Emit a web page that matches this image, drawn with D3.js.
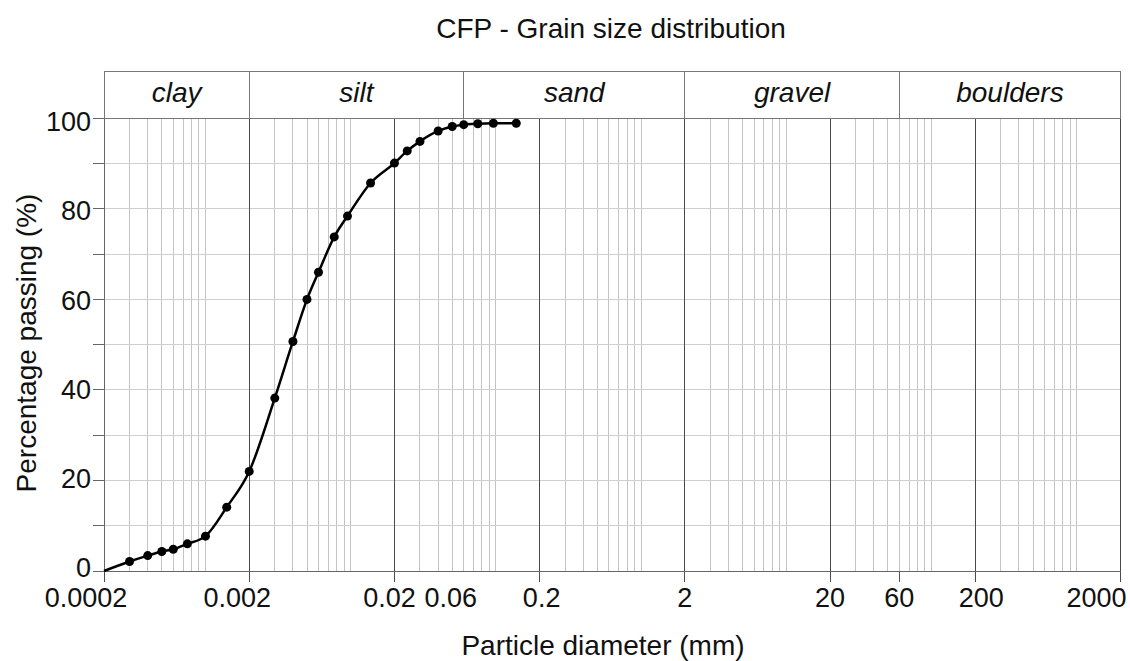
<!DOCTYPE html>
<html>
<head>
<meta charset="utf-8">
<script src="https://cdn.jsdelivr.net/npm/d3@7"></script>
<style>
  body { margin: 0; background: #fff; }
  text { font-family: 'Liberation Sans', Arial, sans-serif; fill: #111; }
</style>
</head>
<body>
<div id="chart"></div>
<script>
const chartWidth = 1130
const chartHeight = 661

// grain size data (mm, % passing)
const diameters = [0.0002, 0.0003, 0.0004, 0.0005, 0.0006, 0.00075, 0.001, 0.0014, 0.002, 0.003, 0.004, 0.005, 0.006, 0.0077, 0.0095, 0.0137, 0.02, 0.0245, 0.03, 0.04, 0.05, 0.06, 0.075, 0.096, 0.138]
const passing = [0, 2.1, 3.4, 4.3, 4.8, 6.0, 7.7, 14.1, 22.0, 38.2, 50.7, 60.0, 66.0, 73.8, 78.4, 85.7, 90.1, 92.8, 94.9, 97.2, 98.2, 98.6, 98.8, 98.9, 98.9]

// soil classes in the header band
const classNames = ['clay', 'silt', 'sand', 'gravel', 'boulders']
const classBounds = [0.0002, 0.002, 0.06, 2, 60, 2000]

// axis ticks
const xTickValues = [0.0002, 0.002, 0.02, 0.06, 0.2, 2, 20, 60, 200, 2000]
const xTickLabels = ['0.0002', '0.002', '0.02', '0.06', '0.2', '2', '20', '60', '200', '2000']
const xMajorLines = [0.0002, 0.002, 0.02, 0.2, 2, 20, 200, 2000]
const yTickValues = [0, 20, 40, 60, 80, 100]

const x = d3.scaleLog().domain([0.0002, 2000]).range([104, 1120.5])
const y = d3.scaleLinear().domain([0, 100]).range([571, 118.3])
const headerTop = 71

const svg = d3
  .select('#chart')
  .append('svg')
  .attr('width', chartWidth)
  .attr('height', chartHeight)

// minor vertical lines: k * 10^n inside domain, not on a major line
const minorLines = []
for (let n = -4; n <= 3; n++) {
  for (let k = 1; k <= 9; k++) {
    const v = +(k * Math.pow(10, n)).toPrecision(3)
    if (v <= 0.0002 || v >= 2000) continue
    if (xMajorLines.some(m => Math.abs(m - v) / m < 1e-6)) continue
    minorLines.push(v)
  }
}

const grid = svg.append('g').attr('shape-rendering', 'crispEdges')

grid
  .selectAll('.minor')
  .data(minorLines)
  .enter()
  .append('line')
  .attr('x1', d => x(d))
  .attr('x2', d => x(d))
  .attr('y1', y(100))
  .attr('y2', y(0))
  .attr('stroke', '#c4c4c4')

// horizontal grid every 10 %
grid
  .selectAll('.hgrid')
  .data(d3.range(10, 100, 10))
  .enter()
  .append('line')
  .attr('x1', x.range()[0])
  .attr('x2', x.range()[1])
  .attr('y1', d => y(d))
  .attr('y2', d => y(d))
  .attr('stroke', '#cfcfcf')

// major vertical lines (extend below axis as ticks)
grid
  .selectAll('.major')
  .data(xMajorLines)
  .enter()
  .append('line')
  .attr('x1', d => x(d))
  .attr('x2', d => x(d))
  .attr('y1', y(100))
  .attr('y2', y(0) + 11)
  .attr('stroke', '#4a4a4a')

// extra tick at 60
grid
  .append('line')
  .attr('x1', x(60))
  .attr('x2', x(60))
  .attr('y1', y(0))
  .attr('y2', y(0) + 11)
  .attr('stroke', '#555')

// y axis line + ticks every 10
grid
  .append('line')
  .attr('x1', x.range()[0])
  .attr('x2', x.range()[0])
  .attr('y1', headerTop)
  .attr('y2', y(0))
  .attr('stroke', '#666')

grid
  .selectAll('.ytick')
  .data(d3.range(0, 101, 10))
  .enter()
  .append('line')
  .attr('x1', x.range()[0] - 11)
  .attr('x2', x.range()[0])
  .attr('y1', d => y(d))
  .attr('y2', d => y(d))
  .attr('stroke', '#666')

// bottom axis line and top (100 %) line
grid
  .selectAll('.hframe')
  .data([0, 100])
  .enter()
  .append('line')
  .attr('x1', x.range()[0])
  .attr('x2', x.range()[1])
  .attr('y1', d => y(d))
  .attr('y2', d => y(d))
  .attr('stroke', '#666')

// header band
grid
  .append('rect')
  .attr('x', x.range()[0])
  .attr('y', headerTop)
  .attr('width', x.range()[1] - x.range()[0])
  .attr('height', y(100) - headerTop)
  .attr('fill', 'none')
  .attr('stroke', '#777')

grid
  .selectAll('.divider')
  .data(classBounds.slice(1, -1))
  .enter()
  .append('line')
  .attr('x1', d => x(d))
  .attr('x2', d => x(d))
  .attr('y1', headerTop)
  .attr('y2', y(100))
  .attr('stroke', '#777')

svg
  .selectAll('.classLabel')
  .data(classNames)
  .enter()
  .append('text')
  .attr('x', (d, i) => (x(classBounds[i]) + x(classBounds[i + 1])) / 2)
  .attr('y', 102)
  .attr('text-anchor', 'middle')
  .style('font-size', '28px')
  .style('font-style', 'italic')
  .text(d => d)

// x tick labels, nudged a little like the original
const labelNudge = { 0.0002: -18, 0.002: -12, 0.02: -5, 0.06: -13, 0.2: 2, 200: 6, 2000: -24 }
svg
  .selectAll('.xlabel')
  .data(xTickValues)
  .enter()
  .append('text')
  .attr('x', d => x(d) + (labelNudge[d] || 0))
  .attr('y', 607)
  .attr('text-anchor', 'middle')
  .style('font-size', '27px')
  .text((d, i) => xTickLabels[i])

// y tick labels (spread slightly wider than the ticks, as in the original)
svg
  .selectAll('.ylabel')
  .data(yTickValues)
  .enter()
  .append('text')
  .attr('x', 91)
  .attr('y', d => y(d) + 9.5 + (d - 50) * 0.065)
  .attr('text-anchor', 'end')
  .style('font-size', '27px')
  .text(d => d)

// curve
const line = d3
  .line()
  .x((d, i) => x(diameters[i]))
  .y(d => y(d))
  .curve(d3.curveMonotoneX)

svg
  .append('path')
  .datum(passing)
  .attr('d', line)
  .attr('fill', 'none')
  .attr('stroke', '#000')
  .attr('stroke-width', 2.5)

svg
  .selectAll('.dot')
  .data(passing.map((p, i) => ({ d: diameters[i], p })).filter(e => e.p > 0))
  .enter()
  .append('circle')
  .attr('cx', e => x(e.d))
  .attr('cy', e => y(e.p))
  .attr('r', 4.5)
  .attr('fill', '#000')

// titles
svg
  .append('text')
  .attr('x', 611)
  .attr('y', 38)
  .attr('text-anchor', 'middle')
  .style('font-size', '28px')
  .text('CFP - Grain size distribution')

svg
  .append('text')
  .attr('x', 603)
  .attr('y', 655)
  .attr('text-anchor', 'middle')
  .style('font-size', '28px')
  .text('Particle diameter (mm)')

svg
  .append('text')
  .attr('transform', 'translate(36,343) rotate(-90)')
  .attr('text-anchor', 'middle')
  .style('font-size', '28px')
  .text('Percentage passing (%)')
</script>
</body>
</html>
